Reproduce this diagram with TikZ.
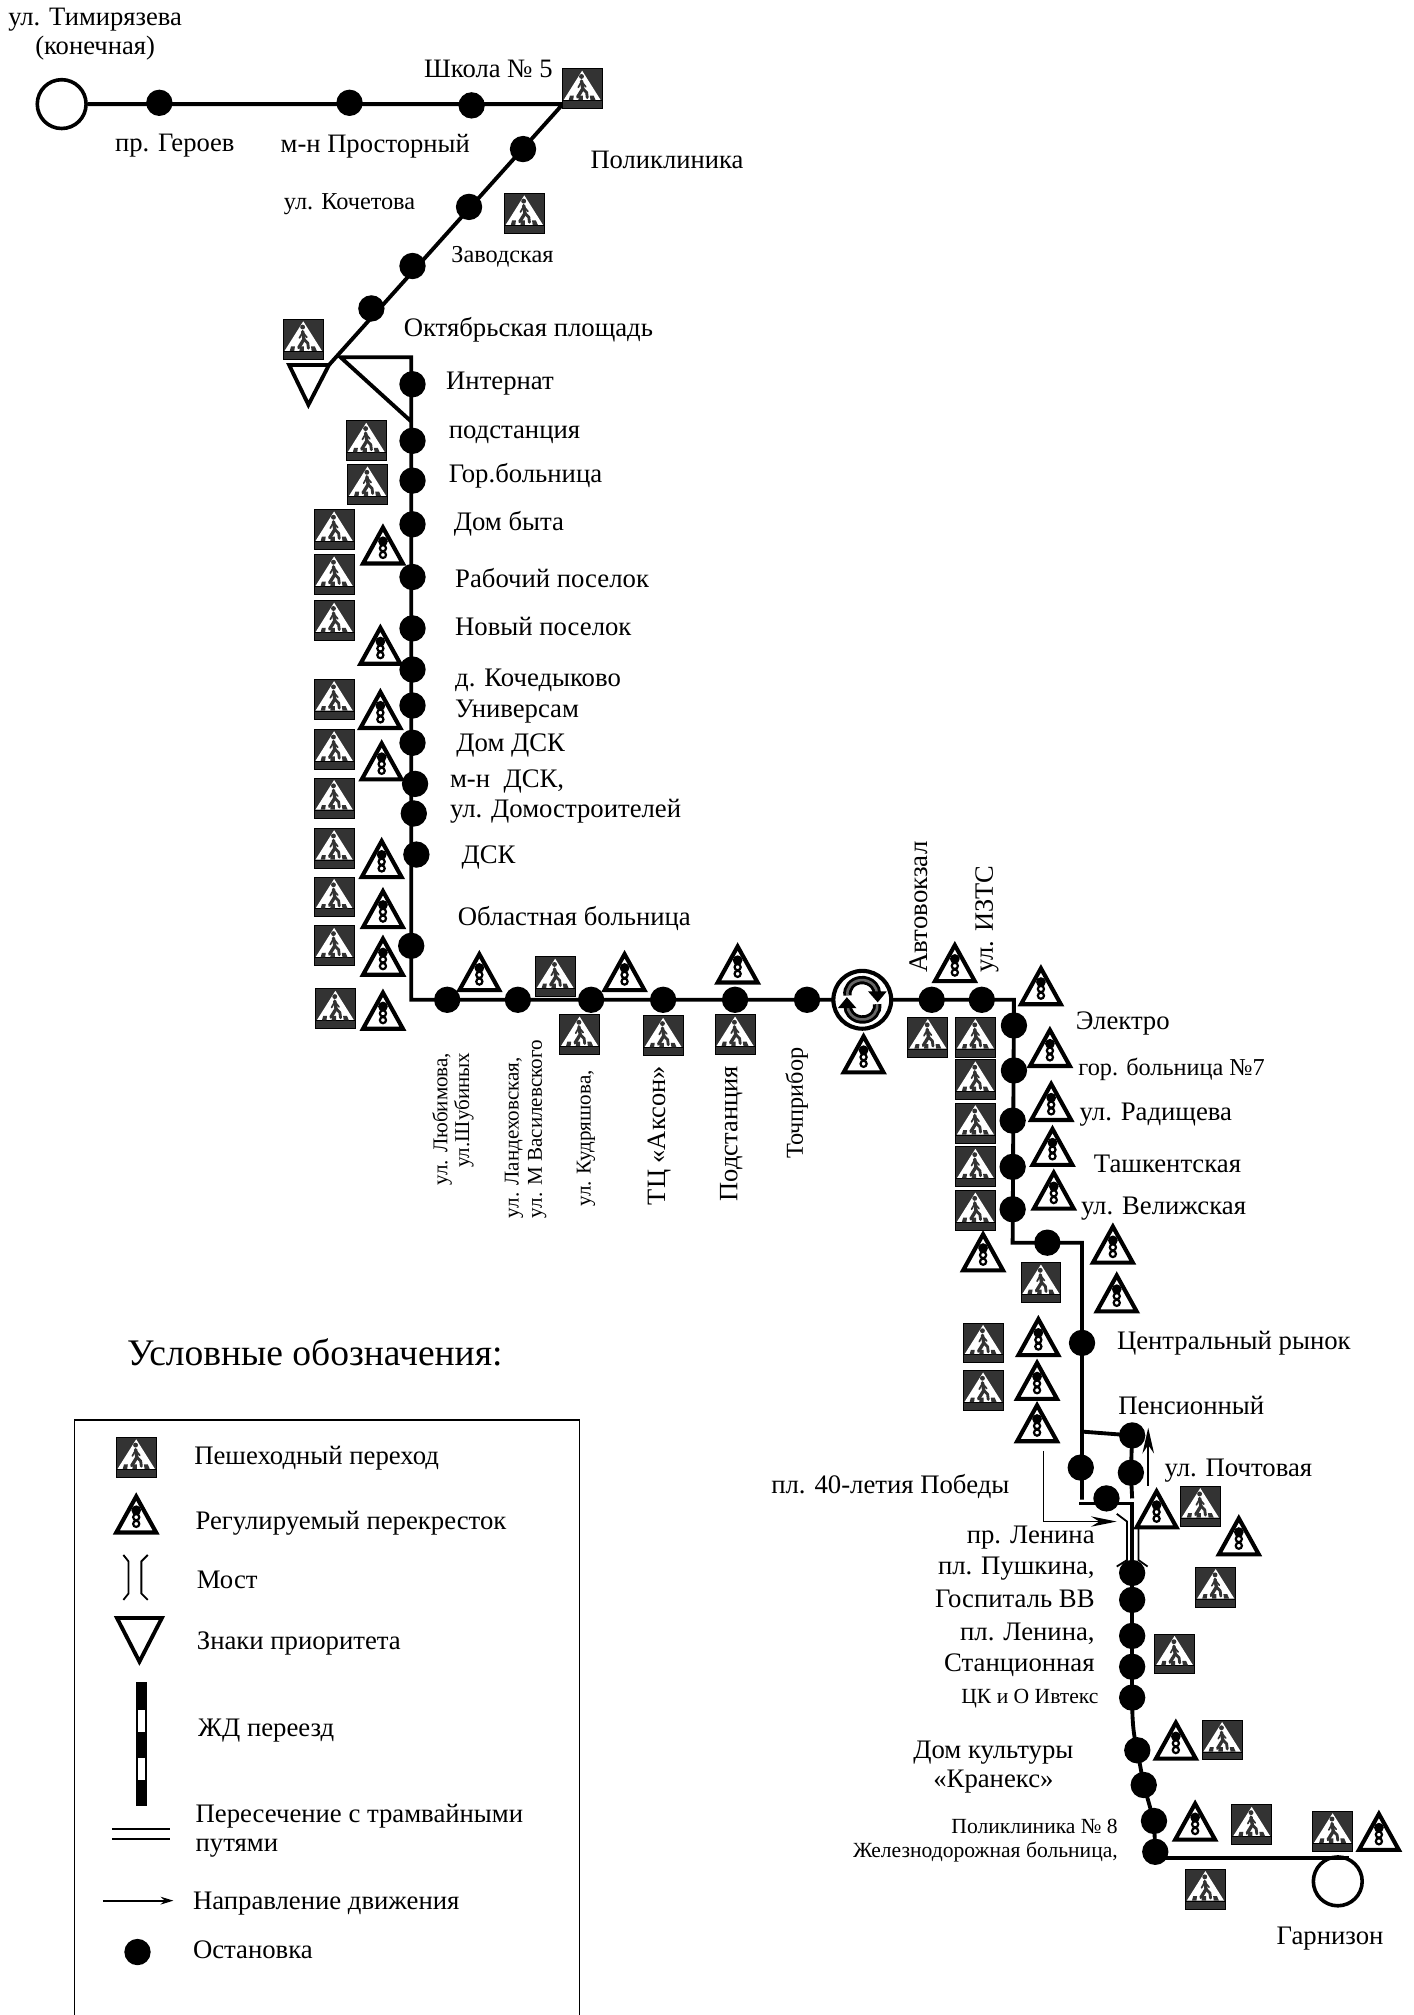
\documentclass[tikz,border=0pt]{standalone}
\usepackage{fontspec}
\setmainfont{Liberation Serif}
\usetikzlibrary{arrows.meta}
\definecolor{signdark}{HTML}{333333}
\tikzset{
 stopdot/.style={circle,fill=black,draw=none,minimum size=20.5pt,inner sep=0pt},
 route/.style={line width=3pt,draw=black,line cap=butt,line join=miter},
 endring/.style={circle,draw=black,line width=2.8pt,fill=white,minimum size=38pt,inner sep=0pt},
 fine/.style={line width=1.4pt,draw=black},
 yieldsign/.style={line width=3pt,draw=black,fill=white,line join=miter},
 lb/.style={inner sep=0pt,yshift=-1.5pt,font=\fontsize{20.7}{22}\selectfont},
 lm/.style={inner sep=0pt,yshift=-1.5pt,font=\fontsize{20.8}{22}\selectfont},
 ls/.style={inner sep=0pt,yshift=-1.5pt,font=\fontsize{18.9}{20}\selectfont},
 lx/.style={inner sep=0pt,yshift=-1.5pt,font=\fontsize{16.8}{18}\selectfont},
 vb/.style={inner sep=0pt,rotate=90,font=\fontsize{20.6}{22}\selectfont},
 vm/.style={inner sep=0pt,rotate=90,font=\fontsize{20.9}{22}\selectfont},
 vs/.style={inner sep=0pt,rotate=90,font=\fontsize{18.9}{20}\selectfont},
 vx/.style={inner sep=0pt,rotate=90,font=\fontsize{16.4}{18}\selectfont}
}
\newcommand{\pedsign}[2]{%
 \begin{scope}[shift={(#1,#2)}]
  \fill[signdark] (-15.5,-15.5) rectangle (15.5,15.5);
  \draw[black,line width=.7pt] (-15.5,-15.5) rectangle (15.5,15.5);
  \fill[white] (0,-14) -- (14.5,9) -- (-14.5,9) -- cycle;
  \draw[black,line width=.5pt] (-15.5,9.2) -- (15.5,9.2);
  \fill[signdark] (-10.5,9) -- (-9.5,5.5) -- (-6.5,5.5) -- (-7,9) -- cycle
                  (-3,9) -- (-2.5,5.5) -- (0.5,5.5) -- (0.5,9) -- cycle
                  (6.5,9) -- (6,5.5) -- (9,5.5) -- (10.5,9) -- cycle;
  \fill[signdark] (-0.5,-9.5) circle (1.9);
  \draw[signdark,line width=2.6pt,line cap=round,line join=round] (-0.5,-6) -- (0.5,0) -- (-3.5,6.5);
  \draw[signdark,line width=2.2pt,line cap=round,line join=round] (0.5,0) -- (3.5,3) -- (4,7);
  \draw[signdark,line width=1.3pt,line cap=round] (-0.5,-5.5) -- (-3,-1) (-0.5,-5.5) -- (2.8,-1.5);
 \end{scope}}
\newcommand{\lightsign}[2]{%
 \begin{scope}[shift={(#1,#2)}]
  \draw[line width=3.2pt,draw=black,fill=white,line join=miter] (0,-14.5) -- (15.5,13.5) -- (-15.5,13.5) -- cycle;
  \fill[black] (0,-3.8) circle (3.8);
  \draw[black,line width=1.7pt] (0,1.6) circle (2.4);
  \draw[black,line width=1.7pt] (0,6.8) circle (2.4);
 \end{scope}}
\begin{document}
\begin{tikzpicture}[x=1pt,y=-1pt]
\useasboundingbox (0,0) rectangle (1100,1568);
% stops
\foreach \n/\x/\y in {a1/124/80,a2/272/80,a3/367/82,a4/407/116,a5/365/161,a6/321/207,a7/289/240,
 b1/321/299,b2/321/343,b3/321/374,b4/321/408,b5/321/449,b6/321/489,b7/321/521,b8/321/549,b9/321/578,b10/323/610,b11/322/633,b12/324/665,b13/320/736,
 d1/348/778,d2/403/778,d3/460/778,d4/516/778,d5/572/778,d6/628/778,d7/725/778,d8/764/778,
 e1/789/798,e2/789/833,e3/788/872,e4/788/908,e5/788/941,e6/815/967,e7/842/1045,e8/841/1142,
 f1/881/1117,f2/880/1146,f3/861/1166,
 g1/881/1224,g2/881/1245,g3/881/1273,g4/881/1297,g5/881/1321,g6/885/1362,g7/890/1389,g8/898/1417,g9/899/1441}
 {\node[stopdot] (\n) at (\x,\y) {};}
\node[endring] (st) at (48,81) {};
\node[endring] (fin) at (1041,1464) {};
\coordinate (k1) at (438,81);
\coordinate (k2) at (256,284);
\coordinate (k3) at (225,284);
\coordinate (k4) at (240,315);
\coordinate (k5) at (320,278);
\coordinate (k6) at (265,278);
\coordinate (k7) at (320,328);
\coordinate (k8) at (320,778);
\coordinate (k9) at (789,778);
\coordinate (k10) at (788,967);
\coordinate (k11) at (842,967);
\coordinate (k12) at (842,1167);
\coordinate (k13) at (842,1114);
\coordinate (k14) at (881,1166);
\coordinate (k15) at (840,1170);
\coordinate (k16) at (881,1170);
\coordinate (k17) at (1050,1446);
\coordinate (k18) at (899,1446);
% route
\draw[route] (st) -- (k1) -- (k2);
\draw[yieldsign] (k3) -- (k2) -- (k4) -- cycle;
\draw[route] (k7) -- (k6) -- (k5) -- (k8) -- (k9) -- (k10) -- (k11) -- (k12);
\draw[route] (k13) -- (f1.center) -- (f2.center) -- (k14);
\draw[route] (k15) -- (k16) -- (g5.center);
\draw[route] (g5.center) .. controls (881,1340) and (882,1350) .. (g6.center) -- (g7.center) -- (g8.center) -- (g9.center);
\draw[route] (k18) -- (k17);
% roundabout
\node[circle,draw=black,line width=3.2pt,fill=white,minimum size=45pt,inner sep=0pt] (rb) at (671,778) {};
\foreach \r in {0,180}{
 \begin{scope}[shift={(rb.center)},rotate=\r]
  \draw[black,line width=6.5pt] (-11.5,-3.4) arc[start angle=172,end angle=360,x radius=11.5,y radius=10.5];
  \draw[signdark!75,line width=2pt] (-11.5,-3.4) arc[start angle=172,end angle=360,x radius=11.5,y radius=10.5];
  \fill[black] (4.5,-6.5) -- (19,-6.5) -- (12,2) -- cycle;
 \end{scope}}
% signs
\foreach \x/\y in {453/69,408/166,236/264,285/343,286/377,260/412,260/447,260/483,260/544,260/583,260/621,260/660,260/698,260/736,261/785,
 432/760,451/805,516/806,572/805,722/807,759/807,759/840,759/874,759/908,759/942,810/998,765/1045,765/1082,934/1172,946/1235,914/1287,951/1354,974/1420,1037/1425,938/1470,106/1134}
 {\pedsign{\x}{\y}}
\foreach \x/\y in {298/425,296/503,296/553,297/593,297/669,298/708,298/745,298/787,373/757,486/757,574/751,672/821,743/750,810/768,817/816,818/858,819/893,820/927,765/975,866/969,869/1007,808/1041,807/1075,807/1108,900/1175,964/1196,915/1355,930/1418,1073/1426,106/1179}
 {\lightsign{\x}{\y}}
% bridge on route
\coordinate (m1) at (869,1178); \coordinate (m2) at (877,1184); \coordinate (m3) at (877,1214); \coordinate (m4) at (869,1219);
\coordinate (m5) at (886,1186); \coordinate (m6) at (886,1214); \coordinate (m7) at (893,1219);
\draw[fine] (m1) -- (m2) -- (m3) -- (m4);
\draw[fine] (m5) -- (m6) -- (m7);
% direction arrows
\coordinate (p1) at (812,1129); \coordinate (p2) at (812,1184); \coordinate (p3) at (869,1184);
\draw[fine,-{Stealth[length=20pt,width=8pt]}] (p1) -- (p2) -- (p3);
\coordinate (p4) at (893.5,1156); \coordinate (p5) at (893.5,1111);
\draw[fine,-{Stealth[length=20pt,width=9pt]}] (p4) -- (p5);
% labels
\node[lb,align=center] (t1) at (74,25) {ул. Тимирязева\\(конечная)};
\node[lb] (t2) at (380,52) {Школа № 5};
\node[lb] (t3) at (136,112) {пр. Героев};
\node[lb] (t4) at (292,112) {м-н Просторный};
\node[lb] (t5) at (519,123) {Поликлиника};
\node[ls] (t6) at (272,157) {ул. Кочетова};
\node[ls] (t7) at (391,198) {Заводская};
\node[lm,anchor=west] (t8) at (314,255) {Октябрьская площадь};
\node[lm,anchor=west] (t9) at (347,297) {Интернат};
\node[lm,anchor=west] (t10) at (349,337) {подстанция};
\node[lm,anchor=west] (t11) at (349,369) {Гор.больница};
\node[lm,anchor=west] (t12) at (353,406) {Дом быта};
\node[lm,anchor=west] (t13) at (354,448) {Рабочий поселок};
\node[lm,anchor=west] (t14) at (354,486) {Новый поселок};
\node[lm,anchor=west] (t15) at (354,528) {д. Кочедыково};
\node[lm,anchor=west] (t16) at (354,552) {Универсам};
\node[lm,anchor=west] (t17) at (355,579) {Дом ДСК};
\node[lm,anchor=west] (t18) at (350,607) {м-н \ ДСК,};
\node[lm,anchor=west] (t19) at (350,630) {ул. Домостроителей};
\node[lm,anchor=west] (t20) at (359,666) {ДСК};
\node[lm,anchor=west] (t21) at (356,713) {Областная больница};
\node[vx,anchor=east] (t22) at (344,819) {ул. Любимова,};
\node[vx,anchor=east] (t23) at (361,819) {ул.Шубиных};
\node[vx,anchor=west] (t24) at (400,948) {ул. Ландеховская,};
\node[vx,anchor=west] (t25) at (418,948) {ул. М Василевского};
\node[vx,anchor=west] (t26) at (456,939) {ул. Кудряшова,};
\node[vb,anchor=west] (t27) at (513,938) {ТЦ «Аксон»};
\node[vb,anchor=west] (t28) at (569,935) {Подстанция};
\node[vs,anchor=west] (t29) at (620,902) {Точприбор};
\node[vm,anchor=west] (t30) at (715,757) {Автовокзал};
\node[vb,anchor=west] (t31) at (768,757) {ул. ИЗТС};
\node[lm,anchor=west] (t32) at (837,795) {Электро};
\node[ls,anchor=west] (t33) at (839,831) {гор. больница №7};
\node[lm,anchor=west] (t34) at (840,866) {ул. Радищева};
\node[lm,anchor=west] (t35) at (851,904) {Ташкентская};
\node[lm,anchor=west] (t36) at (841,939) {ул. Велижская};
\node[lm,anchor=west] (t37) at (869,1044) {Центральный рынок};
\node[lm,anchor=west] (t38) at (870,1092) {Пенсионный};
\node[lm,anchor=west] (t39) at (906,1143) {ул. Почтовая};
\node[lm,anchor=west] (t40) at (600,1155) {пл. 40-летия Победы};
\node[lm,anchor=east] (t41) at (852,1195) {пр. Ленина};
\node[lm,anchor=east] (t42) at (852,1219) {пл. Пушкина,};
\node[lm,anchor=east] (t43) at (852,1243) {Госпиталь ВВ};
\node[lm,anchor=east] (t44) at (852,1270) {пл. Ленина,};
\node[lm,anchor=east] (t45) at (852,1294) {Станционная};
\node[lx,anchor=east] (t46) at (855,1320) {ЦК и О Ивтекс};
\node[lm] (t47) at (773,1362) {Дом культуры};
\node[lm] (t48) at (773,1385) {«Кранекс»};
\node[lx,anchor=east] (t49) at (870,1420) {Поликлиника № 8};
\node[lx,anchor=east] (t50) at (870,1440) {Железнодорожная больница,};
\node[lm] (t51) at (1035,1507) {Гарнизон};
\node[inner sep=0pt,font=\fontsize{29.2}{30}\selectfont] (t52) at (245,1052) {Условные обозначения:};
% legend
\coordinate (q1) at (58,1568); \coordinate (q2) at (58,1105); \coordinate (q3) at (451,1105); \coordinate (q4) at (451,1568);
\draw[black,line width=1.2pt] (q1) -- (q2) -- (q3) -- (q4);
\node[lm,anchor=west] (u1) at (151,1133) {Пешеходный переход};
\node[lm,anchor=west] (u2) at (152,1184) {Регулируемый перекресток};
\node[lm,anchor=west] (u3) at (153,1228) {Мост};
\node[lm,anchor=west] (u4) at (153,1277) {Знаки приоритета};
\node[lm,anchor=west] (u5) at (154,1345) {ЖД переезд};
\node[lm,anchor=west] (u6) at (152,1412) {Пересечение с трамвайными};
\node[lm,anchor=west] (u7) at (152,1437) {путями};
\node[lm,anchor=west] (u8) at (150,1480) {Направление движения};
\node[lm,anchor=west] (u9) at (150,1516) {Остановка};
% bridge symbol
\coordinate (r1) at (96,1210); \coordinate (r2) at (100,1215); \coordinate (r3) at (100,1240); \coordinate (r4) at (96,1245);
\coordinate (r5) at (115,1210); \coordinate (r6) at (110,1215); \coordinate (r7) at (110,1240); \coordinate (r8) at (115,1245);
\draw[fine] (r1) -- (r2) -- (r3) -- (r4);
\draw[fine] (r5) -- (r6) -- (r7) -- (r8);
% yield symbol
\draw[yieldsign,fill=white] (91,1259) -- (126,1259) -- (108.5,1293) -- cycle;
% rail symbol
\fill[black] (106,1309) rectangle (114.5,1405);
\fill[white] (107.5,1331) rectangle (113,1348);
\fill[white] (107.5,1368) rectangle (113,1385);
% tram symbol
\coordinate (v1) at (87,1423); \coordinate (v2) at (132,1423); \coordinate (v3) at (87,1431); \coordinate (v4) at (132,1431);
\draw[fine] (v1) -- (v2);
\draw[fine] (v3) -- (v4);
% direction symbol
\coordinate (w1) at (80,1479); \coordinate (w2) at (135,1479);
\draw[fine,-{Stealth[length=10pt,width=6pt]}] (w1) -- (w2);
\node[stopdot] (w3) at (107,1519) {};
\end{tikzpicture}
\end{document}
